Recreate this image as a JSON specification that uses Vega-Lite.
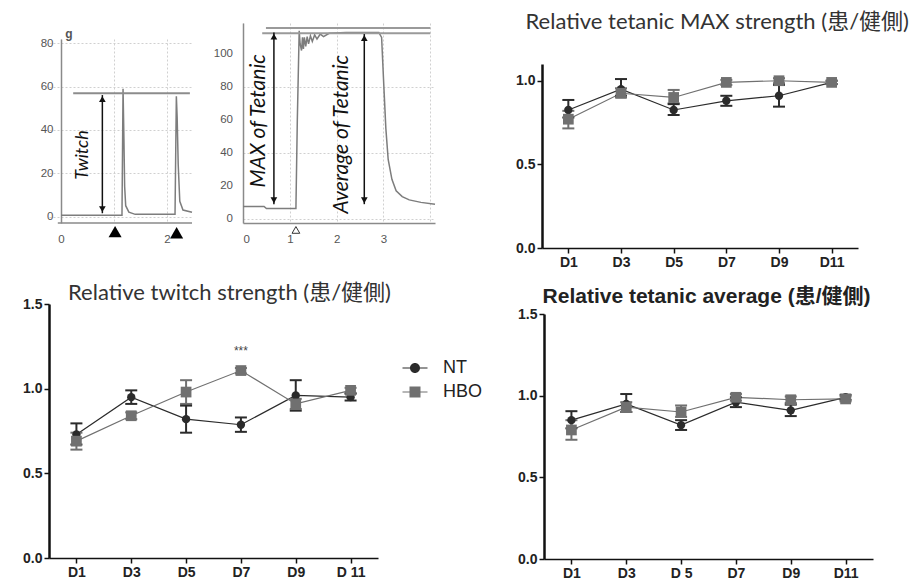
{
  "$schema": "https://vega.github.io/schema/vega-lite/v6.json",
  "background": "white",
  "padding": {"left": 22, "top": 11, "right": 0, "bottom": 0},
  "config": {
    "view": {"stroke": null},
    "axis": {"labelFont": "Liberation Sans", "labelFontWeight": "bold", "labelFontSize": 14, "labelColor": "#222", "domainColor": "#111", "tickColor": "#111", "grid": false, "labelOverlap": false}
  },
  "datasets": {
    "stats": [
      {"panel": "max", "group": "NT", "day": "D1", "mean": 0.825, "lo": 0.78, "hi": 0.885},
      {"panel": "max", "group": "NT", "day": "D3", "mean": 0.95, "lo": 0.91, "hi": 1.01},
      {"panel": "max", "group": "NT", "day": "D5", "mean": 0.825, "lo": 0.795, "hi": 0.86},
      {"panel": "max", "group": "NT", "day": "D7", "mean": 0.88, "lo": 0.85, "hi": 0.91},
      {"panel": "max", "group": "NT", "day": "D9", "mean": 0.91, "lo": 0.845, "hi": 0.975},
      {"panel": "max", "group": "NT", "day": "D11", "mean": 0.99, "lo": 0.98, "hi": 1.0},
      {"panel": "max", "group": "HBO", "day": "D1", "mean": 0.77, "lo": 0.715, "hi": 0.82},
      {"panel": "max", "group": "HBO", "day": "D3", "mean": 0.925, "lo": 0.9, "hi": 0.955},
      {"panel": "max", "group": "HBO", "day": "D5", "mean": 0.9, "lo": 0.865, "hi": 0.945},
      {"panel": "max", "group": "HBO", "day": "D7", "mean": 0.99, "lo": 0.975, "hi": 1.005},
      {"panel": "max", "group": "HBO", "day": "D9", "mean": 1.0, "lo": 0.985, "hi": 1.015},
      {"panel": "max", "group": "HBO", "day": "D11", "mean": 0.99, "lo": 0.98, "hi": 1.0},
      {"panel": "twitch", "group": "NT", "day": "D1", "mean": 0.73, "lo": 0.67, "hi": 0.795},
      {"panel": "twitch", "group": "NT", "day": "D3", "mean": 0.95, "lo": 0.91, "hi": 0.99},
      {"panel": "twitch", "group": "NT", "day": "D5", "mean": 0.82, "lo": 0.74, "hi": 0.9},
      {"panel": "twitch", "group": "NT", "day": "D7", "mean": 0.787, "lo": 0.745, "hi": 0.83},
      {"panel": "twitch", "group": "NT", "day": "D9", "mean": 0.96, "lo": 0.87, "hi": 1.05},
      {"panel": "twitch", "group": "NT", "day": "D11", "mean": 0.95, "lo": 0.93, "hi": 0.97},
      {"panel": "twitch", "group": "HBO", "day": "D1", "mean": 0.69, "lo": 0.64, "hi": 0.74},
      {"panel": "twitch", "group": "HBO", "day": "D3", "mean": 0.84, "lo": 0.82, "hi": 0.86},
      {"panel": "twitch", "group": "HBO", "day": "D5", "mean": 0.98, "lo": 0.91, "hi": 1.05},
      {"panel": "twitch", "group": "HBO", "day": "D7", "mean": 1.107, "lo": 1.09, "hi": 1.122},
      {"panel": "twitch", "group": "HBO", "day": "D9", "mean": 0.91, "lo": 0.88, "hi": 0.94},
      {"panel": "twitch", "group": "HBO", "day": "D11", "mean": 0.99, "lo": 0.975, "hi": 1.005},
      {"panel": "avg", "group": "NT", "day": "D1", "mean": 0.85, "lo": 0.8, "hi": 0.905},
      {"panel": "avg", "group": "NT", "day": "D3", "mean": 0.95, "lo": 0.9, "hi": 1.01},
      {"panel": "avg", "group": "NT", "day": "D5", "mean": 0.82, "lo": 0.79, "hi": 0.85},
      {"panel": "avg", "group": "NT", "day": "D7", "mean": 0.96, "lo": 0.93, "hi": 0.99},
      {"panel": "avg", "group": "NT", "day": "D9", "mean": 0.91, "lo": 0.875, "hi": 0.945},
      {"panel": "avg", "group": "NT", "day": "D11", "mean": 0.99, "lo": 0.975, "hi": 1.005},
      {"panel": "avg", "group": "HBO", "day": "D1", "mean": 0.79, "lo": 0.73, "hi": 0.85},
      {"panel": "avg", "group": "HBO", "day": "D3", "mean": 0.93, "lo": 0.9, "hi": 0.96},
      {"panel": "avg", "group": "HBO", "day": "D5", "mean": 0.9, "lo": 0.87, "hi": 0.94},
      {"panel": "avg", "group": "HBO", "day": "D7", "mean": 0.99, "lo": 0.97, "hi": 1.01},
      {"panel": "avg", "group": "HBO", "day": "D9", "mean": 0.975, "lo": 0.955, "hi": 0.995},
      {"panel": "avg", "group": "HBO", "day": "D11", "mean": 0.98, "lo": 0.965, "hi": 0.995}
    ]
  },
  "spacing": 13,
  "vconcat": [
    {
      "spacing": 77,
      "hconcat": [
        {
          "spacing": 18,
          "hconcat": [
            {
              "spacing": 4,
              "vconcat": [
                {"width": 1, "height": 1, "data": {"values": []}, "mark": {"type": "point", "opacity": 0}},
                {
                  "width": 143, "height": 184,
                  "title": {"text": "g", "anchor": "start", "dx": 25, "offset": -4, "fontSize": 12, "fontWeight": "bold", "color": "#555", "font": "Liberation Sans"},
                  "layer": [
                    {
                      "data": {"values": [
                        {"t": 0, "g": 0.6}, {"t": 1.15, "g": 0.6}, {"t": 1.17, "g": 59}, {"t": 1.185, "g": 38},
                        {"t": 1.2, "g": 14}, {"t": 1.22, "g": 5}, {"t": 1.28, "g": 2}, {"t": 1.4, "g": 1},
                        {"t": 2.15, "g": 1}, {"t": 2.175, "g": 55.5}, {"t": 2.19, "g": 46}, {"t": 2.21, "g": 24},
                        {"t": 2.24, "g": 7}, {"t": 2.3, "g": 3}, {"t": 2.47, "g": 2}
                      ]},
                      "mark": {"type": "line", "color": "#7d7d7d", "strokeWidth": 1.5},
                      "encoding": {
                        "x": {"field": "t", "type": "quantitative", "title": null, "scale": {"domain": [-0.226, 2.47], "nice": false, "zero": false},
                          "axis": {"title": null, "values": [0, 0.5, 1, 1.5, 2], "labelExpr": "datum.value == 0 || datum.value == 2 ? format(datum.value, 'd') : ''", "domain": false, "ticks": false, "grid": true, "gridDash": [2, 2], "gridColor": "#d0d0d0", "labelFont": "Liberation Sans", "labelFontWeight": "normal", "labelFontSize": 11.5, "labelColor": "#555", "labelPadding": 10}},
                        "y": {"field": "g", "type": "quantitative", "title": null, "scale": {"domain": [-3, 82], "nice": false, "zero": false},
                          "axis": {"title": null, "values": [0, 10, 20, 30, 40, 50, 60, 70, 80], "labelExpr": "datum.value % 20 == 0 ? datum.label : ''", "offset": -12, "domainColor": "#8a8a8a", "domainWidth": 1.5, "ticks": false, "grid": true, "gridDash": [2, 2], "gridColor": "#d0d0d0", "labelFont": "Liberation Sans", "labelFontWeight": "normal", "labelFontSize": 11.5, "labelColor": "#555", "labelPadding": 8}}
                      }
                    },
                    {
                      "data": {"values": [{"x": -0.06, "x2": 2.47, "y": -3}]},
                      "mark": {"type": "rule", "color": "#8a8a8a", "strokeWidth": 1.5},
                      "encoding": {"x": {"field": "x", "type": "quantitative", "title": null}, "x2": {"field": "x2"}, "y": {"field": "y", "type": "quantitative", "title": null}}
                    },
                    {
                      "data": {"values": [{"x": 0.23, "x2": 2.43, "y": 56.9}]},
                      "mark": {"type": "rule", "color": "#8c8c8c", "strokeWidth": 2},
                      "encoding": {"x": {"field": "x", "type": "quantitative", "title": null}, "x2": {"field": "x2"}, "y": {"field": "y", "type": "quantitative", "title": null}}
                    },
                    {
                      "data": {"values": [{"x": 0.78, "y": 1.5, "y2": 56.1}]},
                      "mark": {"type": "rule", "color": "#111", "strokeWidth": 1.5},
                      "encoding": {"x": {"field": "x", "type": "quantitative", "title": null}, "y": {"field": "y", "type": "quantitative", "title": null}, "y2": {"field": "y2"}}
                    },
                    {
                      "data": {"values": [{"x": 0.78, "y": 54.2}]},
                      "mark": {"type": "point", "shape": "triangle-up", "filled": true, "color": "#111", "opacity": 1, "size": 45},
                      "encoding": {"x": {"field": "x", "type": "quantitative", "title": null}, "y": {"field": "y", "type": "quantitative", "title": null}}
                    },
                    {
                      "data": {"values": [{"x": 0.78, "y": 3.4}]},
                      "mark": {"type": "point", "shape": "triangle-down", "filled": true, "color": "#111", "opacity": 1, "size": 45},
                      "encoding": {"x": {"field": "x", "type": "quantitative", "title": null}, "y": {"field": "y", "type": "quantitative", "title": null}}
                    },
                    {
                      "data": {"values": [{"x": 1.02, "y": -7}, {"x": 2.18, "y": -7.5}]},
                      "mark": {"type": "point", "shape": "triangle-up", "filled": true, "color": "#000", "opacity": 1, "size": 170},
                      "encoding": {"x": {"field": "x", "type": "quantitative", "title": null, "scale": {"domain": [-0.226, 2.47], "nice": false, "zero": false}}, "y": {"field": "y", "type": "quantitative", "title": null, "scale": {"domain": [-3, 82], "nice": false, "zero": false}}}
                    },
                    {
                      "data": {"values": [{"x": 0.42, "y": 28.4, "label": "Twitch"}]},
                      "mark": {"type": "text", "angle": 270, "font": "Lato", "fontStyle": "italic", "fontSize": 18, "color": "#111", "align": "center", "baseline": "middle"},
                      "encoding": {"x": {"field": "x", "type": "quantitative", "title": null}, "y": {"field": "y", "type": "quantitative", "title": null}, "text": {"field": "label"}}
                    }
                  ]
                }
              ]
            },
            {
              "width": 192, "height": 200,
              "layer": [
                {
                  "data": {"values": [
                    {"t": 0, "g": 7.5}, {"t": 0.45, "g": 7.5}, {"t": 0.5, "g": 6.3}, {"t": 1.13, "g": 6.3}, {"t": 1.16, "g": 60},
                    {"t": 1.2, "g": 114}, {"t": 1.22, "g": 106}, {"t": 1.25, "g": 102}, {"t": 1.27, "g": 110}, {"t": 1.29, "g": 103},
                    {"t": 1.31, "g": 110}, {"t": 1.34, "g": 104.5}, {"t": 1.37, "g": 110.5}, {"t": 1.4, "g": 106}, {"t": 1.44, "g": 111},
                    {"t": 1.48, "g": 107.5}, {"t": 1.53, "g": 111.5}, {"t": 1.58, "g": 109}, {"t": 1.65, "g": 112}, {"t": 1.72, "g": 110.5},
                    {"t": 1.84, "g": 112.5}, {"t": 2.2, "g": 113}, {"t": 2.9, "g": 113}, {"t": 2.96, "g": 110}, {"t": 3.0, "g": 85},
                    {"t": 3.05, "g": 55}, {"t": 3.1, "g": 36}, {"t": 3.18, "g": 24}, {"t": 3.27, "g": 17}, {"t": 3.4, "g": 13.5},
                    {"t": 3.55, "g": 11.5}, {"t": 3.8, "g": 10}, {"t": 4.1, "g": 8.8}
                  ]},
                  "mark": {"type": "line", "color": "#7d7d7d", "strokeWidth": 1.5},
                  "encoding": {
                    "x": {"field": "t", "type": "quantitative", "title": null, "scale": {"domain": [0, 4.1], "nice": false, "zero": false},
                      "axis": {"title": null, "values": [0, 0.5, 1, 1.5, 2, 2.5, 3, 3.5, 4], "labelExpr": "datum.value % 1 == 0 && datum.value < 4 ? format(datum.value, 'd') : ''", "domainColor": "#8a8a8a", "domainWidth": 1.5, "ticks": false, "grid": true, "gridDash": [2, 2], "gridColor": "#d0d0d0", "labelFont": "Liberation Sans", "labelFontWeight": "normal", "labelFontSize": 11.5, "labelColor": "#555", "labelPadding": 10}},
                    "y": {"field": "g", "type": "quantitative", "title": null, "scale": {"domain": [-2.5, 118.7], "nice": false, "zero": false},
                      "axis": {"title": null, "values": [0, 20, 40, 60, 80, 100], "labels": false, "domainColor": "#8a8a8a", "domainWidth": 1.5, "ticks": false, "grid": true, "gridDash": [2, 2], "gridColor": "#d0d0d0"}}
                  }
                },
                {
                  "data": {"values": [{"x": 0, "y": 0, "label": "0"}, {"x": 0, "y": 20, "label": "20"}, {"x": 0, "y": 40, "label": "40"}, {"x": 0, "y": 60, "label": "60"}, {"x": 0, "y": 80, "label": "80"}, {"x": 0, "y": 100, "label": "100"}]},
                  "mark": {"type": "text", "align": "right", "baseline": "middle", "dx": -10, "font": "Liberation Sans", "fontSize": 11.5, "color": "#555"},
                  "encoding": {"x": {"field": "x", "type": "quantitative", "title": null}, "y": {"field": "y", "type": "quantitative", "title": null}, "text": {"field": "label"}}
                },
                {
                  "data": {"values": [{"x": 0.49, "x2": 4.0, "y": 115.6}, {"x": 0.41, "x2": 4.0, "y": 112.5}]},
                  "mark": {"type": "rule", "color": "#9a9a9a", "strokeWidth": 2},
                  "encoding": {"x": {"field": "x", "type": "quantitative", "title": null}, "x2": {"field": "x2"}, "y": {"field": "y", "type": "quantitative", "title": null}}
                },
                {
                  "data": {"values": [{"x": 0.66, "y": 8.9, "y2": 112.9}, {"x": 2.59, "y": 8.9, "y2": 112}]},
                  "mark": {"type": "rule", "color": "#111", "strokeWidth": 1.5},
                  "encoding": {"x": {"field": "x", "type": "quantitative", "title": null}, "y": {"field": "y", "type": "quantitative", "title": null}, "y2": {"field": "y2"}}
                },
                {
                  "data": {"values": [{"x": 0.66, "y": 110.5}, {"x": 2.59, "y": 109.6}]},
                  "mark": {"type": "point", "shape": "triangle-up", "filled": true, "color": "#111", "opacity": 1, "size": 45},
                  "encoding": {"x": {"field": "x", "type": "quantitative", "title": null}, "y": {"field": "y", "type": "quantitative", "title": null}}
                },
                {
                  "data": {"values": [{"x": 0.66, "y": 11.3}, {"x": 2.59, "y": 11.3}]},
                  "mark": {"type": "point", "shape": "triangle-down", "filled": true, "color": "#111", "opacity": 1, "size": 45},
                  "encoding": {"x": {"field": "x", "type": "quantitative", "title": null}, "y": {"field": "y", "type": "quantitative", "title": null}}
                },
                {
                  "data": {"values": [{"x": 1.13, "y": -6.7}]},
                  "mark": {"type": "point", "shape": "triangle-up", "filled": false, "color": "#333", "strokeWidth": 1, "opacity": 1, "size": 60},
                  "encoding": {"x": {"field": "x", "type": "quantitative", "title": null, "scale": {"domain": [0, 4.1], "nice": false, "zero": false}}, "y": {"field": "y", "type": "quantitative", "title": null, "scale": {"domain": [-2.5, 118.7], "nice": false, "zero": false}}}
                },
                {
                  "data": {"values": [{"x": 0.34, "y": 59.4, "label": "MAX of Tetanic"}, {"x": 2.11, "y": 51.3, "label": "Average of Tetanic"}]},
                  "mark": {"type": "text", "angle": 270, "font": "Lato", "fontStyle": "italic", "fontSize": 21, "color": "#111", "align": "center", "baseline": "middle"},
                  "encoding": {"x": {"field": "x", "type": "quantitative", "title": null}, "y": {"field": "y", "type": "quantitative", "title": null}, "text": {"field": "label"}}
                }
              ]
            }
          ]
        },
        {
          "spacing": 40,
          "title": {"text": "Relative tetanic MAX strength (患/健側)", "anchor": "start", "frame": "bounds", "offset": -28, "dx": 10, "font": "Lato, Noto Sans CJK TC", "fontSize": 22, "fontWeight": "normal", "color": "#333", "baseline": "alphabetic"},
          "vconcat": [
            {"width": 1, "height": 1, "data": {"values": []}, "mark": {"type": "point", "opacity": 0}},
            {
              "width": 316, "height": 184,
              "data": {"name": "stats"},
              "transform": [{"filter": "datum.panel === 'max'"}],
              "encoding": {
                "x": {"field": "day", "type": "ordinal", "title": null, "scale": {"type": "point", "domain": ["D1", "D3", "D5", "D7", "D9", "D11"], "padding": 0.5},
                  "axis": {"title": null, "labelAngle": 0, "domainWidth": 1.5, "tickSize": 5, "tickWidth": 1.5, "labelPadding": 2}},
                "color": {"condition": {"test": "datum.group === 'NT'", "value": "#2b2b2b"}, "value": "#707070"}
              },
              "layer": [
                {
                  "mark": {"type": "line", "strokeWidth": 1.2},
                  "encoding": {
                    "y": {"field": "mean", "type": "quantitative", "title": null, "scale": {"domain": [0, 1.1], "nice": false},
                      "axis": {"title": null, "values": [0, 0.5, 1], "format": ".1f", "domainWidth": 2.5, "tickSize": 5, "tickWidth": 1.5, "labelPadding": 2}},
                    "detail": {"field": "group", "type": "nominal"}
                  }
                },
                {
                  "mark": {"type": "rule", "strokeWidth": 2},
                  "encoding": {"y": {"field": "lo", "type": "quantitative", "title": null}, "y2": {"field": "hi"}}
                },
                {
                  "mark": {"type": "tick", "size": 12, "thickness": 2, "opacity": 1},
                  "encoding": {"y": {"field": "lo", "type": "quantitative", "title": null}}
                },
                {
                  "mark": {"type": "tick", "size": 12, "thickness": 2, "opacity": 1},
                  "encoding": {"y": {"field": "hi", "type": "quantitative", "title": null}}
                },
                {
                  "mark": {"type": "point", "filled": true, "opacity": 1},
                  "encoding": {
                    "y": {"field": "mean", "type": "quantitative", "title": null},
                    "shape": {"condition": {"test": "datum.group === 'NT'", "value": "circle"}, "value": "square"},
                    "size": {"condition": {"test": "datum.group === 'NT'", "value": 70}, "value": 115}
                  }
                }
              ]
            }
          ]
        }
      ]
    },
    {
      "spacing": 126,
      "hconcat": [
        {
          "width": 329, "height": 254,
          "title": {"text": "Relative twitch strength (患/健側)", "font": "Lato, Noto Sans CJK TC", "fontSize": 22, "fontWeight": "normal", "color": "#333", "anchor": "middle", "dx": 16, "offset": -25, "baseline": "alphabetic"},
          "data": {"name": "stats"},
          "transform": [{"filter": "datum.panel === 'twitch'"}],
          "encoding": {
            "x": {"field": "day", "type": "ordinal", "title": null, "scale": {"type": "point", "domain": ["D1", "D3", "D5", "D7", "D9", "D11"], "padding": 0.5},
              "axis": {"title": null, "labelAngle": 0, "domainWidth": 1.5, "tickSize": 5, "tickWidth": 1.5, "labelPadding": 2, "labelExpr": "datum.value == 'D11' ? 'D 11' : datum.value"}}
          },
          "layer": [
            {
              "mark": {"type": "line", "strokeWidth": 1.2},
              "encoding": {
                "y": {"field": "mean", "type": "quantitative", "title": null, "scale": {"domain": [0, 1.5], "nice": false},
                  "axis": {"title": null, "values": [0, 0.5, 1, 1.5], "format": ".1f", "domainWidth": 2.5, "tickSize": 5, "tickWidth": 1.5, "labelPadding": 2}},
                "detail": {"field": "group", "type": "nominal"},
                "color": {"condition": {"test": "datum.group === 'NT'", "value": "#2b2b2b"}, "value": "#707070"}
              }
            },
            {
              "mark": {"type": "rule", "strokeWidth": 2},
              "encoding": {"y": {"field": "lo", "type": "quantitative", "title": null}, "y2": {"field": "hi"},
                "color": {"condition": {"test": "datum.group === 'NT'", "value": "#2b2b2b"}, "value": "#707070"}}
            },
            {
              "mark": {"type": "tick", "size": 12, "thickness": 2, "opacity": 1},
              "encoding": {"y": {"field": "lo", "type": "quantitative", "title": null},
                "color": {"condition": {"test": "datum.group === 'NT'", "value": "#2b2b2b"}, "value": "#707070"}}
            },
            {
              "mark": {"type": "tick", "size": 12, "thickness": 2, "opacity": 1},
              "encoding": {"y": {"field": "hi", "type": "quantitative", "title": null},
                "color": {"condition": {"test": "datum.group === 'NT'", "value": "#2b2b2b"}, "value": "#707070"}}
            },
            {
              "mark": {"type": "point", "filled": true, "opacity": 1},
              "encoding": {
                "y": {"field": "mean", "type": "quantitative", "title": null},
                "color": {"condition": {"test": "datum.group === 'NT'", "value": "#2b2b2b"}, "value": "#707070"},
                "shape": {"condition": {"test": "datum.group === 'NT'", "value": "circle"}, "value": "square"},
                "size": {"condition": {"test": "datum.group === 'NT'", "value": 70}, "value": 115}
              }
            },
            {
              "mark": {"type": "point", "filled": true, "opacity": 0, "size": 100},
              "encoding": {
                "y": {"field": "mean", "type": "quantitative", "title": null},
                "color": {"field": "group", "type": "nominal", "scale": {"domain": ["NT", "HBO"], "range": ["#2b2b2b", "#707070"]},
                  "legend": {"orient": "none", "legendX": 357, "legendY": 336, "title": null, "padding": 0, "labelFont": "Liberation Sans", "labelFontWeight": "normal", "labelFontSize": 18, "labelColor": "#222", "labelOffset": 19, "rowPadding": 6, "symbolSize": 100, "symbolStrokeWidth": 0, "symbolOpacity": 1}},
                "shape": {"field": "group", "type": "nominal", "scale": {"domain": ["NT", "HBO"], "range": ["M-2.5,-0.1H-0.9V0.1H-2.5Z M0.9,-0.1H2.5V0.1H0.9Z M-1,0A1,1,0,1,1,1,0A1,1,0,1,1,-1,0Z", "M-2.5,-0.1H-1V0.1H-2.5Z M1,-0.1H2.5V0.1H1Z M-1.1,-1.1H1.1V1.1H-1.1Z"]},
                  "legend": {"orient": "none", "legendX": 357, "legendY": 336, "title": null, "padding": 0, "labelFont": "Liberation Sans", "labelFontWeight": "normal", "labelFontSize": 18, "labelColor": "#222", "labelOffset": 19, "rowPadding": 6, "symbolSize": 100, "symbolStrokeWidth": 0, "symbolOpacity": 1}}
              }
            },
            {
              "data": {"values": [{"panel": "twitch", "day": "D7", "y": 1.225, "label": "***"}]},
              "mark": {"type": "text", "font": "Liberation Sans", "fontSize": 12, "color": "#444", "baseline": "middle"},
              "encoding": {"y": {"field": "y", "type": "quantitative", "title": null}, "text": {"field": "label"}}
            }
          ]
        },
        {
          "spacing": 2,
          "title": {"text": "Relative tetanic average (患/健側)", "anchor": "start", "frame": "bounds", "offset": -20, "dx": 25, "font": "Liberation Sans, Noto Sans CJK TC", "fontSize": 21, "fontWeight": "bold", "color": "#222", "baseline": "alphabetic"},
          "vconcat": [
            {"width": 1, "height": 1, "data": {"values": []}, "mark": {"type": "point", "opacity": 0}},
            {
              "width": 329, "height": 245,
              "data": {"name": "stats"},
              "transform": [{"filter": "datum.panel === 'avg'"}],
              "encoding": {
                "x": {"field": "day", "type": "ordinal", "title": null, "scale": {"type": "point", "domain": ["D1", "D3", "D5", "D7", "D9", "D11"], "padding": 0.5},
                  "axis": {"title": null, "labelAngle": 0, "domainWidth": 1.5, "tickSize": 5, "tickWidth": 1.5, "labelPadding": 2, "labelExpr": "datum.value == 'D5' ? 'D 5' : datum.value"}},
                "color": {"condition": {"test": "datum.group === 'NT'", "value": "#2b2b2b"}, "value": "#707070"}
              },
              "layer": [
                {
                  "mark": {"type": "line", "strokeWidth": 1.2},
                  "encoding": {
                    "y": {"field": "mean", "type": "quantitative", "title": null, "scale": {"domain": [0, 1.5], "nice": false},
                      "axis": {"title": null, "values": [0, 0.5, 1, 1.5], "format": ".1f", "domainWidth": 2.5, "tickSize": 5, "tickWidth": 1.5, "labelPadding": 2}},
                    "detail": {"field": "group", "type": "nominal"}
                  }
                },
                {
                  "mark": {"type": "rule", "strokeWidth": 2},
                  "encoding": {"y": {"field": "lo", "type": "quantitative", "title": null}, "y2": {"field": "hi"}}
                },
                {
                  "mark": {"type": "tick", "size": 12, "thickness": 2, "opacity": 1},
                  "encoding": {"y": {"field": "lo", "type": "quantitative", "title": null}}
                },
                {
                  "mark": {"type": "tick", "size": 12, "thickness": 2, "opacity": 1},
                  "encoding": {"y": {"field": "hi", "type": "quantitative", "title": null}}
                },
                {
                  "mark": {"type": "point", "filled": true, "opacity": 1},
                  "encoding": {
                    "y": {"field": "mean", "type": "quantitative", "title": null},
                    "shape": {"condition": {"test": "datum.group === 'NT'", "value": "circle"}, "value": "square"},
                    "size": {"condition": {"test": "datum.group === 'NT'", "value": 70}, "value": 115}
                  }
                }
              ]
            }
          ]
        }
      ]
    }
  ]
}
